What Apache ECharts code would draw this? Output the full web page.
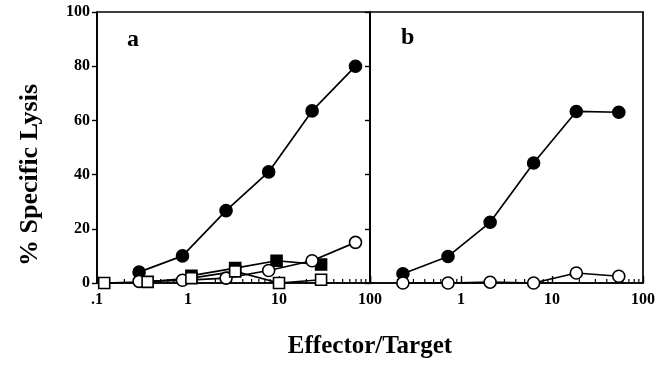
<!DOCTYPE html>
<html>
<head>
<meta charset="utf-8">
<script src="https://cdn.jsdelivr.net/npm/echarts@6/dist/echarts.min.js"></script>
<style>
html,body{margin:0;padding:0;background:#fff;}
#chart{width:660px;height:369px;}
</style>
</head>
<body>
<div id="chart"></div>
<script>
// panel a
var aX = [0.29, 0.87, 2.62, 7.7, 23.1, 69.3];
var aFilledCircle = [4, 10, 26.7, 41, 63.5, 80];
var aOpenCircle = [0.6, 1, 1.8, 4.6, 8.2, 15];
var aSquareX = [1.09, 3.3, 9.4, 29];
var aFilledSquare = [2.7, 5.5, 8.2, 6.8];
var aOpenSquareX = [0.12, 0.36, 1.09, 3.3, 10, 29];
var aOpenSquare = [0, 0.4, 1.8, 4.3, 0, 1.2];
// panel b
var bX = [0.23, 0.72, 2.09, 6.28, 18.5, 54.2];
var bFilledCircle = [3.4, 9.8, 22.4, 44.3, 63.3, 63];
var bOpenCircle = [0, 0, 0.3, 0, 3.7, 2.5];

var yTicks = [0, 20, 40, 60, 80, 100];
var minorTicks = [0.2,0.3,0.4,0.5,0.6,0.7,0.8,0.9,2,3,4,5,6,7,8,9,20,30,40,50,60,70,80,90];

var font = '"Liberation Serif", "Times New Roman", serif';

function zip(xs, ys) {
    return xs.map(function (x, i) { return [x, ys[i]]; });
}

function lineSeries(idx, data, symbol, filled) {
    return {
        type: 'line',
        xAxisIndex: idx,
        yAxisIndex: idx,
        data: data,
        symbol: symbol,
        symbolSize: symbol == 'rect' ? 11 : 12,
        showSymbol: true,
        animation: false,
        lineStyle: { color: '#000', width: 1.7 },
        itemStyle: {
            color: filled ? '#000' : '#fff',
            borderColor: '#000',
            borderWidth: 1.6
        },
        z: filled ? 3 : 4
    };
}

function minorSeries(idx) {
    return {
        type: 'custom',
        xAxisIndex: idx,
        yAxisIndex: idx,
        animation: false,
        silent: true,
        z: 2,
        data: minorTicks.map(function (v) { return [v, 0]; }),
        renderItem: function (params, api) {
            var p = api.coord([api.value(0), 0]);
            return {
                type: 'line',
                shape: { x1: p[0], y1: p[1], x2: p[0], y2: p[1] - 4 },
                style: { stroke: '#000', lineWidth: 1.2 }
            };
        }
    };
}

function xAxis(idx) {
    return {
        type: 'log',
        gridIndex: idx,
        logBase: 10,
        min: 0.1,
        max: 100,
        axisLine: { show: true, lineStyle: { color: '#000', width: 1.7 } },
        axisTick: { show: true, inside: true, length: 7, lineStyle: { color: '#000', width: 1.4 } },
        splitLine: { show: false },
        axisLabel: {
            color: '#000',
            fontFamily: font,
            fontWeight: 'bold',
            fontSize: 16,
            margin: 9,
            formatter: function (v) {
                if (v < 0.5) return idx == 0 ? '.1' : '';
                return String(Math.round(v));
            }
        }
    };
}

function yAxis(idx) {
    return {
        type: 'value',
        gridIndex: idx,
        min: 0,
        max: 100,
        interval: 20,
        axisLine: { show: true, lineStyle: { color: '#000', width: 1.7 } },
        axisTick: { show: true, length: 5, lineStyle: { color: '#000', width: 1.4 } },
        splitLine: { show: false },
        axisLabel: {
            show: idx == 0,
            color: '#000',
            fontFamily: font,
            fontWeight: 'bold',
            fontSize: 16,
            margin: 7,
            formatter: function (v) { return yTicks.indexOf(v) >= 0 ? String(v) : ''; }
        }
    };
}

var chart = echarts.init(document.getElementById('chart'), null, { renderer: 'canvas' });
chart.setOption({
    backgroundColor: '#fff',
    animation: false,
    grid: [
        { left: 97, top: 12, width: 273, height: 271, show: true, borderColor: '#000', borderWidth: 1.7 },
        { left: 370, top: 12, width: 273, height: 271, show: true, borderColor: '#000', borderWidth: 1.7 }
    ],
    xAxis: [xAxis(0), xAxis(1)],
    yAxis: [yAxis(0), yAxis(1)],
    title: [
        { text: 'a', left: 122, top: 23, textStyle: { fontFamily: font, fontWeight: 'bold', fontSize: 24, color: '#000' } },
        { text: 'b', left: 396, top: 21, textStyle: { fontFamily: font, fontWeight: 'bold', fontSize: 24, color: '#000' } }
    ],
    graphic: [
        {
            type: 'text',
            x: 30, y: 175,
            rotation: Math.PI / 2,
            style: {
                text: '% Specific Lysis',
                font: 'bold 26px ' + font,
                fill: '#000',
                align: 'center',
                verticalAlign: 'middle'
            }
        },
        {
            type: 'text',
            x: 370, y: 347,
            style: {
                text: 'Effector/Target',
                font: 'bold 25px ' + font,
                fill: '#000',
                align: 'center',
                verticalAlign: 'middle'
            }
        }
    ],
    series: [
        lineSeries(0, zip(aX, aFilledCircle), 'circle', true),
        lineSeries(0, zip(aX, aOpenCircle), 'circle', false),
        lineSeries(0, zip(aSquareX, aFilledSquare), 'rect', true),
        lineSeries(0, zip(aOpenSquareX, aOpenSquare), 'rect', false),
        lineSeries(1, zip(bX, bFilledCircle), 'circle', true),
        lineSeries(1, zip(bX, bOpenCircle), 'circle', false),
        minorSeries(0),
        minorSeries(1)
    ]
});
window.addEventListener('resize', function () { chart.resize(); });
</script>
</body>
</html>
